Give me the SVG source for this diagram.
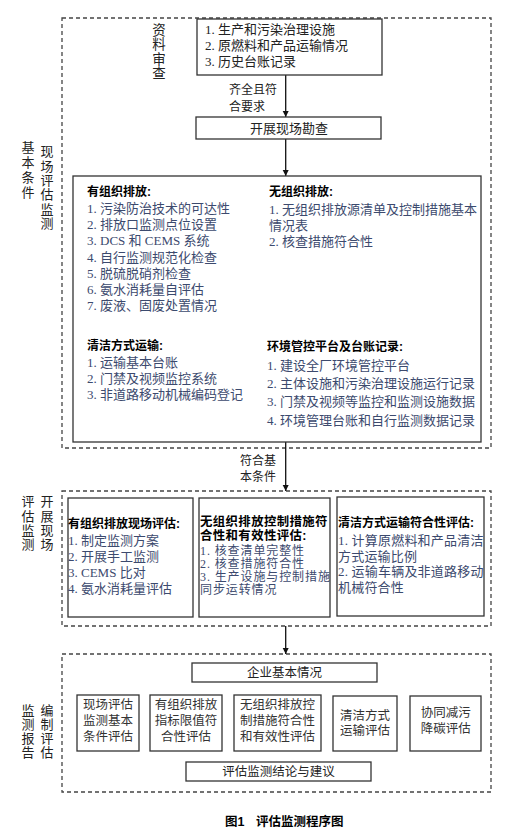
<svg xmlns="http://www.w3.org/2000/svg" width="517" height="839" viewBox="0 0 517 839">
<defs>
<style>
.dash{fill:none;stroke:#444;stroke-width:1.3;stroke-dasharray:4 3}
.box{fill:#fff;stroke:#333;stroke-width:1.3}
.t{font-family:"Liberation Serif","Noto Sans CJK SC",serif;font-size:13px;fill:#222}
.s{font-size:12.5px}
.item{fill:#3c4a6e}
.b{font-family:"Liberation Sans","Noto Sans CJK SC",sans-serif;font-weight:bold;font-size:12px;fill:#000}
.v{font-family:"Noto Sans CJK SC",sans-serif;font-size:13px;fill:#222;writing-mode:vertical-rl;text-orientation:upright}
.c{text-anchor:middle}
.ln{stroke:#111;stroke-width:1.3;fill:none}
</style>
<marker id="ah" markerUnits="userSpaceOnUse" markerWidth="7" markerHeight="7" refX="6" refY="3" orient="auto">
<path d="M0,0 L6,3 L0,6 z" fill="#111"/>
</marker>
</defs>
<rect width="517" height="839" fill="#fff"/>

<g id="frames">
<rect class="dash" x="62" y="18" width="429" height="430"/>
<rect class="dash" x="62" y="491" width="429" height="135"/>
<rect class="dash" x="62" y="654" width="429" height="138"/>
</g>

<g id="labels">
<text class="v" style="font-size:13.5px;letter-spacing:1px" x="159" y="23">资料审查</text>
<text class="v" style="letter-spacing:2px" x="28" y="141">基本条件</text>
<text class="v" style="letter-spacing:1.3px" x="47" y="145">现场评估监测</text>
<text class="v" style="letter-spacing:1.2px" x="28" y="495">评估监测</text>
<text class="v" style="letter-spacing:1.2px" x="47" y="495">开展现场</text>
<text class="v" style="letter-spacing:1px" x="28" y="703.5">监测报告</text>
<text class="v" style="letter-spacing:1px" x="47" y="703.5">编制评估</text>
</g>

<g id="connectors">
<line class="ln" x1="285.7" y1="75" x2="285.7" y2="117" marker-end="url(#ah)"/>
<line class="ln" x1="285.7" y1="139" x2="285.7" y2="176" marker-end="url(#ah)"/>
<line class="ln" x1="285.7" y1="442" x2="285.7" y2="491" marker-end="url(#ah)"/>
<line class="ln" x1="285.7" y1="626" x2="285.7" y2="654" marker-end="url(#ah)"/>
<text class="t" style="font-size:12px"><tspan x="229" y="93.5">齐全且符</tspan><tspan x="229" y="110.5">合要求</tspan></text>
<text class="t" style="font-size:12px"><tspan x="240" y="464.5">符合基</tspan><tspan x="240" y="480.5">本条件</tspan></text>
</g>

<g id="n-materials">
<rect class="box" x="197" y="19" width="185" height="56"/>
<text class="t"><tspan x="205" y="33.5">1. 生产和污染治理设施</tspan><tspan x="205" y="49.5">2. 原燃料和产品运输情况</tspan><tspan x="205" y="65.5">3. 历史台账记录</tspan></text>
</g>

<g id="n-survey">
<rect class="box" x="196" y="117" width="185" height="22"/>
<text class="t c" x="289" y="132.5">开展现场勘查</text>
</g>

<g id="n-basic">
<rect class="box" x="73" y="176" width="408" height="266"/>
<text class="b" x="87" y="196">有组织排放:</text>
<text class="t item"><tspan x="87" y="213">1. 污染防治技术的可达性</tspan><tspan x="87" y="229.2">2. 排放口监测点位设置</tspan><tspan x="87" y="245.4">3. DCS 和 CEMS 系统</tspan><tspan x="87" y="261.6">4. 自行监测规范化检查</tspan><tspan x="87" y="277.8">5. 脱硫脱硝剂检查</tspan><tspan x="87" y="294">6. 氨水消耗量自评估</tspan><tspan x="87" y="310.2">7. 废液、固废处置情况</tspan></text>
<text class="b" x="269" y="196">无组织排放:</text>
<text class="t item"><tspan x="269" y="213.5">1. 无组织排放源清单及控制措施基本</tspan><tspan x="269" y="229.5">情况表</tspan><tspan x="269" y="245.5">2. 核查措施符合性</tspan></text>
<text class="b" x="87" y="349.5">清洁方式运输:</text>
<text class="t item"><tspan x="87" y="366.5">1. 运输基本台账</tspan><tspan x="87" y="382.5">2. 门禁及视频监控系统</tspan><tspan x="87" y="398.5">3. 非道路移动机械编码登记</tspan></text>
<text class="b" x="267" y="351">环境管控平台及台账记录:</text>
<text class="t item"><tspan x="267" y="370">1. 建设全厂环境管控平台</tspan><tspan x="267" y="388">2. 主体设施和污染治理设施运行记录</tspan><tspan x="267" y="406">3. 门禁及视频等监控和监测设施数据</tspan><tspan x="267" y="424.5">4. 环境管理台账和自行监测数据记录</tspan></text>
</g>

<g id="n-eval-org">
<rect class="box" x="68" y="498" width="125" height="119"/>
<text class="b" x="68" y="527.5">有组织排放现场评估:</text>
<text class="t item"><tspan x="68" y="544.5">1. 制定监测方案</tspan><tspan x="68" y="560.5">2. 开展手工监测</tspan><tspan x="68" y="576.5">3. CEMS 比对</tspan><tspan x="68" y="592.5">4. 氨水消耗量评估</tspan></text>
</g>

<g id="n-eval-unorg">
<rect class="box" x="199" y="498" width="131" height="119"/>
<text class="b" style="font-size:12.4px;letter-spacing:0.4px"><tspan x="200" y="526">无组织排放控制措施符</tspan><tspan x="200" y="540">合性和有效性评估:</tspan></text>
<text class="t item" style="font-size:12px;letter-spacing:0.9px"><tspan x="200" y="554.5">1. 核查清单完整性</tspan><tspan x="200" y="567.5">2. 核查措施符合性</tspan><tspan x="200" y="580.5">3. 生产设施与控制措施</tspan><tspan x="200" y="593.5">同步运转情况</tspan></text>
</g>

<g id="n-eval-clean">
<rect class="box" x="337" y="497" width="147" height="119"/>
<text class="b" x="338" y="526.5">清洁方式运输符合性评估:</text>
<text class="t item" style="letter-spacing:0.2px"><tspan x="338" y="545">1. 计算原燃料和产品清洁</tspan><tspan x="338" y="560.5">方式运输比例</tspan><tspan x="338" y="576">2. 运输车辆及非道路移动</tspan><tspan x="338" y="591.5">机械符合性</tspan></text>
</g>

<g id="n-company">
<rect class="box" x="192" y="663" width="185" height="19"/>
<text class="t s c" x="284.5" y="676.5">企业基本情况</text>
</g>

<g id="n-r1">
<rect class="box" x="77" y="695" width="62" height="56"/>
<text class="t s c" style="fill:#333"><tspan x="108" y="708.5">现场评估</tspan><tspan x="108" y="725">监测基本</tspan><tspan x="108" y="741">条件评估</tspan></text>
</g>
<g id="n-r2">
<rect class="box" x="150" y="695" width="72" height="56"/>
<text class="t s c" style="fill:#333"><tspan x="186" y="708.5">有组织排放</tspan><tspan x="186" y="725">指标限值符</tspan><tspan x="186" y="741">合性评估</tspan></text>
</g>
<g id="n-r3">
<rect class="box" x="234" y="695" width="87" height="56"/>
<text class="t s c" style="fill:#333"><tspan x="277.5" y="708.5">无组织排放控</tspan><tspan x="277.5" y="725">制措施符合性</tspan><tspan x="277.5" y="741">和有效性评估</tspan></text>
</g>
<g id="n-r4">
<rect class="box" x="333" y="696" width="64" height="55"/>
<text class="t s c" style="fill:#333"><tspan x="365" y="719.5">清洁方式</tspan><tspan x="365" y="735">运输评估</tspan></text>
</g>
<g id="n-r5">
<rect class="box" x="410" y="696" width="71" height="55"/>
<text class="t s c" style="fill:#333"><tspan x="445.7" y="717">协同减污</tspan><tspan x="445.7" y="732.5">降碳评估</tspan></text>
</g>

<g id="n-conclusion">
<rect class="box" x="186" y="762" width="185" height="19"/>
<text class="t s c" x="278.5" y="775.5">评估监测结论与建议</text>
</g>

<g id="caption">
<text class="b" style="font-size:12.5px" x="225" y="826">图1</text>
<text class="b" style="font-size:12.5px" x="256" y="826">评估监测程序图</text>
</g>
</svg>
